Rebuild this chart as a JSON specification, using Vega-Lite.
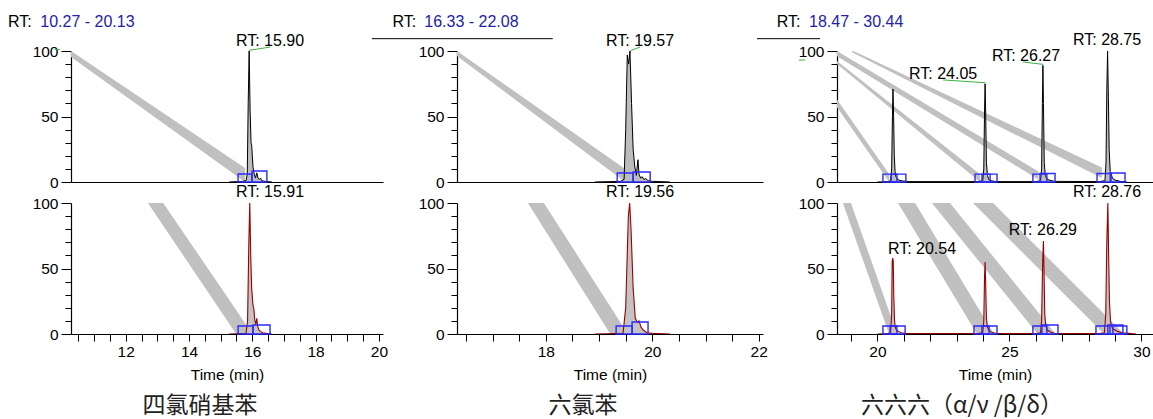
{
"$schema": "https://vega.github.io/schema/vega-lite/v6.json",
"padding": {"left": 8, "top": 13, "right": 0, "bottom": 4},
"config": {"font": "Liberation Sans", "view": {"stroke": null},
  "axis": {"grid": false, "domainColor": "#000", "domainWidth": 1.2, "tickColor": "#000", "tickWidth": 1, "labelColor": "#000", "labelFont": "Liberation Sans", "labelFontSize": 15.5, "labelFlush": false, "labelOverlap": false, "titleFont": "Liberation Sans", "titleFontSize": 15.5, "titleFontWeight": "normal", "titleColor": "#000"}},
"datasets": {
"trace": [
{"p":"1t","t":15.27,"v":0},{"p":"1t","t":15.5,"v":0.3},{"p":"1t","t":15.7,"v":0.5},{"p":"1t","t":15.8,"v":1},{"p":"1t","t":15.84,"v":6},{"p":"1t","t":15.87,"v":60},{"p":"1t","t":15.9,"v":100},{"p":"1t","t":15.93,"v":55},{"p":"1t","t":15.96,"v":30},{"p":"1t","t":15.98,"v":28},{"p":"1t","t":16.02,"v":12},{"p":"1t","t":16.06,"v":6},{"p":"1t","t":16.1,"v":3},{"p":"1t","t":16.14,"v":7},{"p":"1t","t":16.18,"v":3},{"p":"1t","t":16.22,"v":2},{"p":"1t","t":16.26,"v":3},{"p":"1t","t":16.3,"v":1},{"p":"1t","t":16.4,"v":0.5},{"p":"1t","t":16.62,"v":0},
{"p":"1b","t":15.27,"v":0},{"p":"1b","t":15.5,"v":0.2},{"p":"1b","t":15.8,"v":0.5},{"p":"1b","t":15.85,"v":10},{"p":"1b","t":15.89,"v":70},{"p":"1b","t":15.92,"v":100},{"p":"1b","t":15.95,"v":60},{"p":"1b","t":15.98,"v":35},{"p":"1b","t":16.02,"v":22},{"p":"1b","t":16.05,"v":19},{"p":"1b","t":16.08,"v":10},{"p":"1b","t":16.11,"v":8},{"p":"1b","t":16.14,"v":12},{"p":"1b","t":16.17,"v":6},{"p":"1b","t":16.21,"v":3},{"p":"1b","t":16.26,"v":2},{"p":"1b","t":16.32,"v":1},{"p":"1b","t":16.45,"v":0.5},{"p":"1b","t":16.62,"v":0},
{"p":"2t","t":18.92,"v":0},{"p":"2t","t":19.2,"v":0.3},{"p":"2t","t":19.4,"v":0.5},{"p":"2t","t":19.47,"v":2},{"p":"2t","t":19.5,"v":40},{"p":"2t","t":19.53,"v":97},{"p":"2t","t":19.555,"v":90},{"p":"2t","t":19.58,"v":100},{"p":"2t","t":19.61,"v":60},{"p":"2t","t":19.64,"v":25},{"p":"2t","t":19.67,"v":12},{"p":"2t","t":19.7,"v":5},{"p":"2t","t":19.73,"v":17},{"p":"2t","t":19.75,"v":6},{"p":"2t","t":19.78,"v":3},{"p":"2t","t":19.81,"v":4},{"p":"2t","t":19.84,"v":2},{"p":"2t","t":19.88,"v":2.5},{"p":"2t","t":19.92,"v":1},{"p":"2t","t":20.0,"v":0.5},{"p":"2t","t":20.15,"v":0.3},{"p":"2t","t":20.33,"v":0},
{"p":"2b","t":18.92,"v":0},{"p":"2b","t":19.3,"v":0.3},{"p":"2b","t":19.45,"v":0.5},{"p":"2b","t":19.5,"v":20},{"p":"2b","t":19.55,"v":90},{"p":"2b","t":19.575,"v":100},{"p":"2b","t":19.6,"v":80},{"p":"2b","t":19.64,"v":35},{"p":"2b","t":19.68,"v":12},{"p":"2b","t":19.72,"v":9},{"p":"2b","t":19.75,"v":10},{"p":"2b","t":19.79,"v":5},{"p":"2b","t":19.83,"v":3},{"p":"2b","t":19.9,"v":1},{"p":"2b","t":20.0,"v":0.5},{"p":"2b","t":20.33,"v":0},
{"p":"3t","t":20.0,"v":0},{"p":"3t","t":20.4,"v":0.3},{"p":"3t","t":20.5,"v":1},{"p":"3t","t":20.54,"v":10},{"p":"3t","t":20.57,"v":50},{"p":"3t","t":20.59,"v":71},{"p":"3t","t":20.61,"v":55},{"p":"3t","t":20.64,"v":20},{"p":"3t","t":20.67,"v":8},{"p":"3t","t":20.7,"v":4},{"p":"3t","t":20.75,"v":3},{"p":"3t","t":20.8,"v":1.5},{"p":"3t","t":20.95,"v":0.8},{"p":"3t","t":21.2,"v":0.3},
{"p":"3t","t":23.8,"v":0.3},{"p":"3t","t":23.99,"v":1},{"p":"3t","t":24.03,"v":10},{"p":"3t","t":24.06,"v":55},{"p":"3t","t":24.08,"v":75},{"p":"3t","t":24.1,"v":55},{"p":"3t","t":24.13,"v":15},{"p":"3t","t":24.17,"v":5},{"p":"3t","t":24.22,"v":2},{"p":"3t","t":24.3,"v":1},{"p":"3t","t":24.5,"v":0.3},
{"p":"3t","t":26.0,"v":0.3},{"p":"3t","t":26.18,"v":1},{"p":"3t","t":26.22,"v":10},{"p":"3t","t":26.25,"v":60},{"p":"3t","t":26.27,"v":89},{"p":"3t","t":26.29,"v":60},{"p":"3t","t":26.32,"v":15},{"p":"3t","t":26.36,"v":5},{"p":"3t","t":26.42,"v":2.5},{"p":"3t","t":26.5,"v":1.5},{"p":"3t","t":26.7,"v":0.5},
{"p":"3t","t":28.4,"v":0.3},{"p":"3t","t":28.62,"v":1},{"p":"3t","t":28.66,"v":15},{"p":"3t","t":28.69,"v":70},{"p":"3t","t":28.72,"v":100},{"p":"3t","t":28.75,"v":65},{"p":"3t","t":28.78,"v":25},{"p":"3t","t":28.82,"v":8},{"p":"3t","t":28.86,"v":6},{"p":"3t","t":28.9,"v":3},{"p":"3t","t":29.0,"v":1.5},{"p":"3t","t":29.2,"v":0.5},{"p":"3t","t":29.45,"v":0},
{"p":"3b","t":20.0,"v":0},{"p":"3b","t":20.4,"v":0.3},{"p":"3b","t":20.5,"v":1},{"p":"3b","t":20.54,"v":15},{"p":"3b","t":20.56,"v":55},{"p":"3b","t":20.58,"v":58},{"p":"3b","t":20.6,"v":56},{"p":"3b","t":20.62,"v":30},{"p":"3b","t":20.65,"v":10},{"p":"3b","t":20.68,"v":5},{"p":"3b","t":20.72,"v":3},{"p":"3b","t":20.8,"v":2},{"p":"3b","t":20.9,"v":1},{"p":"3b","t":21.1,"v":0.4},
{"p":"3b","t":23.8,"v":0.3},{"p":"3b","t":23.99,"v":1},{"p":"3b","t":24.03,"v":10},{"p":"3b","t":24.06,"v":45},{"p":"3b","t":24.08,"v":55},{"p":"3b","t":24.1,"v":40},{"p":"3b","t":24.13,"v":12},{"p":"3b","t":24.17,"v":5},{"p":"3b","t":24.22,"v":3},{"p":"3b","t":24.3,"v":1.5},{"p":"3b","t":24.5,"v":0.4},
{"p":"3b","t":26.0,"v":0.4},{"p":"3b","t":26.18,"v":1},{"p":"3b","t":26.22,"v":10},{"p":"3b","t":26.26,"v":55},{"p":"3b","t":26.29,"v":71},{"p":"3b","t":26.31,"v":50},{"p":"3b","t":26.34,"v":15},{"p":"3b","t":26.38,"v":6},{"p":"3b","t":26.44,"v":3},{"p":"3b","t":26.55,"v":1.5},{"p":"3b","t":26.7,"v":0.5},
{"p":"3b","t":28.4,"v":0.4},{"p":"3b","t":28.6,"v":1},{"p":"3b","t":28.65,"v":15},{"p":"3b","t":28.69,"v":70},{"p":"3b","t":28.73,"v":100},{"p":"3b","t":28.76,"v":60},{"p":"3b","t":28.79,"v":25},{"p":"3b","t":28.83,"v":10},{"p":"3b","t":28.87,"v":6},{"p":"3b","t":28.92,"v":4},{"p":"3b","t":29.0,"v":3},{"p":"3b","t":29.1,"v":2},{"p":"3b","t":29.25,"v":1},{"p":"3b","t":29.5,"v":0.5},{"p":"3b","t":29.8,"v":0}
],
"band": [
{"p":"1t","b":"A","t":10.27,"v":95.5,"v2":100},{"p":"1t","b":"A","t":15.77,"v":0,"v2":10.7},
{"p":"1b","b":"A","t":12.45,"v":109,"v2":126},{"p":"1b","b":"A","t":15.49,"v":0,"v2":18.3},{"p":"1b","b":"A","t":15.99,"v":0,"v2":0},
{"p":"2t","b":"A","t":16.33,"v":96.2,"v2":100},{"p":"2t","b":"A","t":19.49,"v":0,"v2":10},
{"p":"2b","b":"A","t":17.51,"v":109.8,"v2":128.8},{"p":"2b","b":"A","t":19.21,"v":0,"v2":20.9},{"p":"2b","b":"A","t":19.54,"v":0,"v2":0},
{"p":"3t","b":"A","t":18.47,"v":57,"v2":63},{"p":"3t","b":"A","t":20.45,"v":0,"v2":6},
{"p":"3t","b":"B","t":18.47,"v":90,"v2":92.4},{"p":"3t","b":"B","t":23.89,"v":0,"v2":6},
{"p":"3t","b":"C","t":18.47,"v":96,"v2":100},{"p":"3t","b":"C","t":26.1,"v":2,"v2":8},
{"p":"3t","b":"D","t":19.04,"v":99,"v2":100.5},{"p":"3t","b":"D","t":28.5,"v":3,"v2":11},
{"p":"3b","b":"A","t":18.58,"v":106.5,"v2":123.8},{"p":"3b","b":"A","t":20.44,"v":0,"v2":17.6},{"p":"3b","b":"A","t":20.74,"v":0,"v2":0},
{"p":"3b","b":"B","t":20.48,"v":110,"v2":131.8},{"p":"3b","b":"B","t":23.77,"v":0,"v2":21.4},{"p":"3b","b":"B","t":24.42,"v":0,"v2":0},
{"p":"3b","b":"C","t":21.8,"v":106.6,"v2":123.7},{"p":"3b","b":"C","t":26.07,"v":0,"v2":17.1},{"p":"3b","b":"C","t":26.75,"v":0,"v2":0},
{"p":"3b","b":"D","t":23.32,"v":106,"v2":121.4},{"p":"3b","b":"D","t":28.59,"v":0,"v2":15.3},{"p":"3b","b":"D","t":29.34,"v":0,"v2":0}
],
"box": [
{"p":"1t","t":15.55,"t2":15.99,"v":0,"v2":6.1},{"p":"1t","t":15.99,"t2":16.46,"v":0,"v2":8.4},
{"p":"1b","t":15.55,"t2":16.02,"v":0,"v2":6.1},{"p":"1b","t":16.02,"t2":16.56,"v":0,"v2":6.9},
{"p":"2t","t":19.34,"t2":19.64,"v":0,"v2":6.9},{"p":"2t","t":19.64,"t2":19.96,"v":0,"v2":7.6},
{"p":"2b","t":19.32,"t2":19.62,"v":0,"v2":6.1},{"p":"2b","t":19.62,"t2":19.92,"v":0,"v2":9.2},
{"p":"3t","t":20.21,"t2":20.74,"v":0,"v2":6},{"p":"3t","t":20.52,"t2":21.08,"v":0,"v2":6},
{"p":"3t","t":23.7,"t2":24.27,"v":0,"v2":6},{"p":"3t","t":23.96,"t2":24.53,"v":0,"v2":6},
{"p":"3t","t":25.89,"t2":26.42,"v":0,"v2":6},{"p":"3t","t":26.16,"t2":26.73,"v":0,"v2":6.5},
{"p":"3t","t":28.32,"t2":28.85,"v":0,"v2":6.5},{"p":"3t","t":28.82,"t2":29.38,"v":0,"v2":6.9},
{"p":"3b","t":20.21,"t2":20.74,"v":0,"v2":6.1},{"p":"3b","t":20.48,"t2":21.05,"v":0,"v2":6.1},
{"p":"3b","t":23.66,"t2":24.23,"v":0,"v2":6.1},{"p":"3b","t":23.96,"t2":24.53,"v":0,"v2":6.1},
{"p":"3b","t":25.89,"t2":26.42,"v":0,"v2":6.1},{"p":"3b","t":26.23,"t2":26.84,"v":0,"v2":6.9},
{"p":"3b","t":28.28,"t2":28.81,"v":0,"v2":6.1},{"p":"3b","t":28.73,"t2":29.3,"v":0,"v2":6.9},{"p":"3b","t":28.92,"t2":29.45,"v":0,"v2":6.1}
],
"label": [
{"p":"1t","t":16.56,"v":103.8,"text":"RT: 15.90"},
{"p":"1b","t":16.56,"v":104.6,"text":"RT: 15.91"},
{"p":"2t","t":19.77,"v":103.8,"text":"RT: 19.57"},
{"p":"2b","t":19.77,"v":104.6,"text":"RT: 19.56"},
{"p":"3t","t":22.49,"v":78.9,"text":"RT: 24.05"},
{"p":"3t","t":25.63,"v":92.4,"text":"RT: 26.27"},
{"p":"3t","t":28.7,"v":104.3,"text":"RT: 28.75"},
{"p":"3b","t":28.7,"v":104.3,"text":"RT: 28.76"},
{"p":"3b","t":21.69,"v":61.3,"text":"RT: 20.54"},
{"p":"3b","t":26.27,"v":75.3,"text":"RT: 26.29"}
],
"leader": [
{"p":"1t","t":15.9,"v":100.5,"t2":16.56,"v2":103},
{"p":"1t","t":9.76,"v":101.2,"t2":9.92,"v2":101.2},
{"p":"2t","t":19.59,"v":100.3,"t2":19.77,"v2":103},
{"p":"3t","t":22.49,"v":77.9,"t2":24.08,"v2":75.8},
{"p":"3t","t":25.52,"v":91.6,"t2":26.28,"v2":89.8},
{"p":"3t","t":17.03,"v":93,"t2":17.26,"v2":93.2}
],
"head": [
{"p":"1t","part":"rt","t":8.28,"v":122.4,"text":"RT:"},{"p":"1t","part":"range","t":9.3,"v":122.4,"text":"10.27 - 20.13"},
{"p":"2t","part":"rt","t":15.12,"v":122.4,"text":"RT:"},{"p":"2t","part":"range","t":15.715,"v":122.4,"text":"16.33 - 22.08"},
{"p":"3t","part":"rt","t":16.186,"v":122.4,"text":"RT:"},{"p":"3t","part":"range","t":17.41,"v":122.4,"text":"18.47 - 30.44"}
],
"hrule": [
{"p":"2t","t":14.73,"t2":18.13,"v":109.4},
{"p":"3t","t":15.44,"t2":17.83,"v":109.4}
]
},
"concat": [
{
 "width": 312, "height": 131,
 "encoding": {
  "x": {"field":"t","type":"quantitative","scale":{"domain":[10.27,20.13],"nice":false,"zero":false},"axis":{"title":null,"labels":false,"ticks":false}},
  "y": {"field":"v","type":"quantitative","scale":{"domain":[0,100],"nice":false,"zero":false},"axis":{"title":null,"values":[0,10,20,30,40,50,60,70,80,90,100],"labelExpr":"datum.value % 50 === 0 ? datum.label : ''","tickSize":{"condition":{"test":"datum.value % 50 === 0","value":10},"value":6},"labelPadding":3,"labelFont":"Liberation Sans","labelFontSize":15.5,"labelColor":"#000"}}
 },
 "layer": [
  {"data":{"name":"band"},"transform":[{"filter":"datum.p === '1t'"}],"mark":{"type":"area","clip":true,"color":"#c0c0c0"},"encoding":{"y":{"field":"v","type":"quantitative","stack":null},"y2":{"field":"v2"},"detail":{"field":"b","type":"nominal"}}},
  {"data":{"name":"trace"},"transform":[{"filter":"datum.p === '1t'"}],"mark":{"type":"area","clip":true,"color":"#bdbdbd"},"encoding":{"y":{"field":"v","type":"quantitative","stack":null}}},
  {"data":{"name":"trace"},"transform":[{"filter":"datum.p === '1t'"}],"mark":{"type":"line","clip":true,"color":"#000","strokeWidth":1}},
  {"data":{"name":"box"},"transform":[{"filter":"datum.p === '1t'"}],"mark":{"type":"rect","fillOpacity":0,"stroke":"#2a2aff","strokeWidth":1.4},"encoding":{"x2":{"field":"t2"},"y2":{"field":"v2"}}},
  {"data":{"name":"leader"},"transform":[{"filter":"datum.p === '1t'"}],"mark":{"type":"rule","color":"#3cb043","strokeWidth":1},"encoding":{"x2":{"field":"t2"},"y2":{"field":"v2"}}},
  {"data":{"name":"label"},"transform":[{"filter":"datum.p === '1t'"}],"mark":{"type":"text","font":"Liberation Sans","fontSize":16,"align":"center","baseline":"alphabetic","color":"#000"},"encoding":{"text":{"field":"text"}}},
  {"data":{"name":"head"},"transform":[{"filter":"datum.p === '1t' && datum.part === 'rt'"}],"mark":{"type":"text","font":"Liberation Sans","fontSize":16,"align":"left","baseline":"middle","color":"#000"},"encoding":{"text":{"field":"text"}}},
  {"data":{"name":"head"},"transform":[{"filter":"datum.p === '1t' && datum.part === 'range'"}],"mark":{"type":"text","font":"Liberation Sans","fontSize":16,"align":"left","baseline":"middle","color":"#2222a8"},"encoding":{"text":{"field":"text"}}}
 ]
},
{
 "width": 306, "height": 131,
 "encoding": {
  "x": {"field":"t","type":"quantitative","scale":{"domain":[16.33,22.08],"nice":false,"zero":false},"axis":{"title":null,"labels":false,"ticks":false}},
  "y": {"field":"v","type":"quantitative","scale":{"domain":[0,100],"nice":false,"zero":false},"axis":{"title":null,"values":[0,10,20,30,40,50,60,70,80,90,100],"labelExpr":"datum.value % 50 === 0 ? datum.label : ''","tickSize":{"condition":{"test":"datum.value % 50 === 0","value":10},"value":6},"labelPadding":3,"labelFont":"Liberation Sans","labelFontSize":15.5,"labelColor":"#000"}}
 },
 "layer": [
  {"data":{"name":"band"},"transform":[{"filter":"datum.p === '2t'"}],"mark":{"type":"area","clip":true,"color":"#c0c0c0"},"encoding":{"y":{"field":"v","type":"quantitative","stack":null},"y2":{"field":"v2"},"detail":{"field":"b","type":"nominal"}}},
  {"data":{"name":"trace"},"transform":[{"filter":"datum.p === '2t'"}],"mark":{"type":"area","clip":true,"color":"#bdbdbd"},"encoding":{"y":{"field":"v","type":"quantitative","stack":null}}},
  {"data":{"name":"trace"},"transform":[{"filter":"datum.p === '2t'"}],"mark":{"type":"line","clip":true,"color":"#000","strokeWidth":1}},
  {"data":{"name":"box"},"transform":[{"filter":"datum.p === '2t'"}],"mark":{"type":"rect","fillOpacity":0,"stroke":"#2a2aff","strokeWidth":1.4},"encoding":{"x2":{"field":"t2"},"y2":{"field":"v2"}}},
  {"data":{"name":"leader"},"transform":[{"filter":"datum.p === '2t'"}],"mark":{"type":"rule","color":"#3cb043","strokeWidth":1},"encoding":{"x2":{"field":"t2"},"y2":{"field":"v2"}}},
  {"data":{"name":"hrule"},"transform":[{"filter":"datum.p === '2t'"}],"mark":{"type":"rule","color":"#000","strokeWidth":1},"encoding":{"x2":{"field":"t2"}}},
  {"data":{"name":"label"},"transform":[{"filter":"datum.p === '2t'"}],"mark":{"type":"text","font":"Liberation Sans","fontSize":16,"align":"center","baseline":"alphabetic","color":"#000"},"encoding":{"text":{"field":"text"}}},
  {"data":{"name":"head"},"transform":[{"filter":"datum.p === '2t' && datum.part === 'rt'"}],"mark":{"type":"text","font":"Liberation Sans","fontSize":16,"align":"left","baseline":"middle","color":"#000"},"encoding":{"text":{"field":"text"}}},
  {"data":{"name":"head"},"transform":[{"filter":"datum.p === '2t' && datum.part === 'range'"}],"mark":{"type":"text","font":"Liberation Sans","fontSize":16,"align":"left","baseline":"middle","color":"#2222a8"},"encoding":{"text":{"field":"text"}}}
 ]
},
{
 "width": 316, "height": 131,
 "encoding": {
  "x": {"field":"t","type":"quantitative","scale":{"domain":[18.47,30.44],"nice":false,"zero":false},"axis":{"title":null,"labels":false,"ticks":false}},
  "y": {"field":"v","type":"quantitative","scale":{"domain":[0,100],"nice":false,"zero":false},"axis":{"title":null,"values":[0,10,20,30,40,50,60,70,80,90,100],"labelExpr":"datum.value % 50 === 0 ? datum.label : ''","tickSize":{"condition":{"test":"datum.value % 50 === 0","value":10},"value":6},"labelPadding":3,"labelFont":"Liberation Sans","labelFontSize":15.5,"labelColor":"#000"}}
 },
 "layer": [
  {"data":{"name":"band"},"transform":[{"filter":"datum.p === '3t'"}],"mark":{"type":"area","clip":true,"color":"#c0c0c0"},"encoding":{"y":{"field":"v","type":"quantitative","stack":null},"y2":{"field":"v2"},"detail":{"field":"b","type":"nominal"}}},
  {"data":{"name":"trace"},"transform":[{"filter":"datum.p === '3t'"}],"mark":{"type":"area","clip":true,"color":"#bdbdbd"},"encoding":{"y":{"field":"v","type":"quantitative","stack":null}}},
  {"data":{"name":"trace"},"transform":[{"filter":"datum.p === '3t'"}],"mark":{"type":"line","clip":true,"color":"#000","strokeWidth":1}},
  {"data":{"name":"box"},"transform":[{"filter":"datum.p === '3t'"}],"mark":{"type":"rect","fillOpacity":0,"stroke":"#2a2aff","strokeWidth":1.4},"encoding":{"x2":{"field":"t2"},"y2":{"field":"v2"}}},
  {"data":{"name":"leader"},"transform":[{"filter":"datum.p === '3t'"}],"mark":{"type":"rule","color":"#3cb043","strokeWidth":1},"encoding":{"x2":{"field":"t2"},"y2":{"field":"v2"}}},
  {"data":{"name":"hrule"},"transform":[{"filter":"datum.p === '3t'"}],"mark":{"type":"rule","color":"#000","strokeWidth":1},"encoding":{"x2":{"field":"t2"}}},
  {"data":{"name":"label"},"transform":[{"filter":"datum.p === '3t'"}],"mark":{"type":"text","font":"Liberation Sans","fontSize":16,"align":"center","baseline":"alphabetic","color":"#000"},"encoding":{"text":{"field":"text"}}},
  {"data":{"name":"head"},"transform":[{"filter":"datum.p === '3t' && datum.part === 'rt'"}],"mark":{"type":"text","font":"Liberation Sans","fontSize":16,"align":"left","baseline":"middle","color":"#000"},"encoding":{"text":{"field":"text"}}},
  {"data":{"name":"head"},"transform":[{"filter":"datum.p === '3t' && datum.part === 'range'"}],"mark":{"type":"text","font":"Liberation Sans","fontSize":16,"align":"left","baseline":"middle","color":"#2222a8"},"encoding":{"text":{"field":"text"}}}
 ]
},
{
 "width": 312, "height": 131,
 "title": {"text":"四氯硝基苯","orient":"bottom","anchor":"middle","font":"Noto Sans CJK SC","fontSize":23,"fontWeight":"normal","color":"#222","dx":-27,"offset":12},
 "encoding": {
  "x": {"field":"t","type":"quantitative","scale":{"domain":[10.27,20.13],"nice":false,"zero":false},"axis":{"title":"Time (min)","values":[10.5,11,11.5,12,12.5,13,13.5,14,14.5,15,15.5,16,16.5,17,17.5,18,18.5,19,19.5,20],"labelExpr":"datum.value % 2 === 0 ? '' + datum.value : ''","tickSize":7,"labelPadding":3,"titlePadding":8,"labelFont":"Liberation Sans","labelFontSize":15.5,"labelColor":"#000","titleFont":"Liberation Sans","titleFontSize":15.5,"titleFontWeight":"normal","titleColor":"#000"}},
  "y": {"field":"v","type":"quantitative","scale":{"domain":[0,100],"nice":false,"zero":false},"axis":{"title":null,"values":[0,10,20,30,40,50,60,70,80,90,100],"labelExpr":"datum.value % 50 === 0 ? datum.label : ''","tickSize":{"condition":{"test":"datum.value % 50 === 0","value":10},"value":6},"labelPadding":3,"labelFont":"Liberation Sans","labelFontSize":15.5,"labelColor":"#000"}}
 },
 "layer": [
  {"data":{"name":"band"},"transform":[{"filter":"datum.p === '1b'"}],"mark":{"type":"area","clip":true,"color":"#c0c0c0"},"encoding":{"y":{"field":"v","type":"quantitative","stack":null},"y2":{"field":"v2"},"detail":{"field":"b","type":"nominal"}}},
  {"data":{"name":"trace"},"transform":[{"filter":"datum.p === '1b'"}],"mark":{"type":"area","clip":true,"color":"#c4c4c4"},"encoding":{"y":{"field":"v","type":"quantitative","stack":null}}},
  {"data":{"name":"trace"},"transform":[{"filter":"datum.p === '1b'"}],"mark":{"type":"line","clip":true,"color":"#990000","strokeWidth":1.1}},
  {"data":{"name":"box"},"transform":[{"filter":"datum.p === '1b'"}],"mark":{"type":"rect","fillOpacity":0,"stroke":"#2a2aff","strokeWidth":1.4},"encoding":{"x2":{"field":"t2"},"y2":{"field":"v2"}}},
  {"data":{"name":"label"},"transform":[{"filter":"datum.p === '1b'"}],"mark":{"type":"text","font":"Liberation Sans","fontSize":16,"align":"center","baseline":"alphabetic","color":"#000"},"encoding":{"text":{"field":"text"}}}
 ]
},
{
 "width": 306, "height": 131,
 "title": {"text":"六氯苯","orient":"bottom","anchor":"middle","font":"Noto Sans CJK SC","fontSize":23,"fontWeight":"normal","color":"#222","dx":-27,"offset":12},
 "encoding": {
  "x": {"field":"t","type":"quantitative","scale":{"domain":[16.33,22.08],"nice":false,"zero":false},"axis":{"title":"Time (min)","values":[16.5,17,17.5,18,18.5,19,19.5,20,20.5,21,21.5,22],"labelExpr":"datum.value % 2 === 0 ? '' + datum.value : ''","tickSize":7,"labelPadding":3,"titlePadding":8,"labelFont":"Liberation Sans","labelFontSize":15.5,"labelColor":"#000","titleFont":"Liberation Sans","titleFontSize":15.5,"titleFontWeight":"normal","titleColor":"#000"}},
  "y": {"field":"v","type":"quantitative","scale":{"domain":[0,100],"nice":false,"zero":false},"axis":{"title":null,"values":[0,10,20,30,40,50,60,70,80,90,100],"labelExpr":"datum.value % 50 === 0 ? datum.label : ''","tickSize":{"condition":{"test":"datum.value % 50 === 0","value":10},"value":6},"labelPadding":3,"labelFont":"Liberation Sans","labelFontSize":15.5,"labelColor":"#000"}}
 },
 "layer": [
  {"data":{"name":"band"},"transform":[{"filter":"datum.p === '2b'"}],"mark":{"type":"area","clip":true,"color":"#c0c0c0"},"encoding":{"y":{"field":"v","type":"quantitative","stack":null},"y2":{"field":"v2"},"detail":{"field":"b","type":"nominal"}}},
  {"data":{"name":"trace"},"transform":[{"filter":"datum.p === '2b'"}],"mark":{"type":"area","clip":true,"color":"#c4c4c4"},"encoding":{"y":{"field":"v","type":"quantitative","stack":null}}},
  {"data":{"name":"trace"},"transform":[{"filter":"datum.p === '2b'"}],"mark":{"type":"line","clip":true,"color":"#990000","strokeWidth":1.1}},
  {"data":{"name":"box"},"transform":[{"filter":"datum.p === '2b'"}],"mark":{"type":"rect","fillOpacity":0,"stroke":"#2a2aff","strokeWidth":1.4},"encoding":{"x2":{"field":"t2"},"y2":{"field":"v2"}}},
  {"data":{"name":"label"},"transform":[{"filter":"datum.p === '2b'"}],"mark":{"type":"text","font":"Liberation Sans","fontSize":16,"align":"center","baseline":"alphabetic","color":"#000"},"encoding":{"text":{"field":"text"}}}
 ]
},
{
 "width": 316, "height": 131,
 "title": {"text":"六六六（α/ν /β/δ）","orient":"bottom","anchor":"middle","font":"Noto Sans CJK SC","fontSize":23,"fontWeight":"normal","color":"#222","dx":-33,"offset":12},
 "encoding": {
  "x": {"field":"t","type":"quantitative","scale":{"domain":[18.47,30.44],"nice":false,"zero":false},"axis":{"title":"Time (min)","values":[19,20,21,22,23,24,25,26,27,28,29,30],"labelExpr":"datum.value % 5 === 0 ? '' + datum.value : ''","tickSize":7,"labelPadding":3,"titlePadding":8,"labelFont":"Liberation Sans","labelFontSize":15.5,"labelColor":"#000","titleFont":"Liberation Sans","titleFontSize":15.5,"titleFontWeight":"normal","titleColor":"#000"}},
  "y": {"field":"v","type":"quantitative","scale":{"domain":[0,100],"nice":false,"zero":false},"axis":{"title":null,"values":[0,10,20,30,40,50,60,70,80,90,100],"labelExpr":"datum.value % 50 === 0 ? datum.label : ''","tickSize":{"condition":{"test":"datum.value % 50 === 0","value":10},"value":6},"labelPadding":3,"labelFont":"Liberation Sans","labelFontSize":15.5,"labelColor":"#000"}}
 },
 "layer": [
  {"data":{"name":"band"},"transform":[{"filter":"datum.p === '3b'"}],"mark":{"type":"area","clip":true,"color":"#c0c0c0"},"encoding":{"y":{"field":"v","type":"quantitative","stack":null},"y2":{"field":"v2"},"detail":{"field":"b","type":"nominal"}}},
  {"data":{"name":"trace"},"transform":[{"filter":"datum.p === '3b'"}],"mark":{"type":"area","clip":true,"color":"#c4c4c4"},"encoding":{"y":{"field":"v","type":"quantitative","stack":null}}},
  {"data":{"name":"trace"},"transform":[{"filter":"datum.p === '3b'"}],"mark":{"type":"line","clip":true,"color":"#990000","strokeWidth":1.1}},
  {"data":{"name":"box"},"transform":[{"filter":"datum.p === '3b'"}],"mark":{"type":"rect","fillOpacity":0,"stroke":"#2a2aff","strokeWidth":1.4},"encoding":{"x2":{"field":"t2"},"y2":{"field":"v2"}}},
  {"data":{"name":"label"},"transform":[{"filter":"datum.p === '3b'"}],"mark":{"type":"text","font":"Liberation Sans","fontSize":16,"align":"center","baseline":"alphabetic","color":"#000"},"encoding":{"text":{"field":"text"}}}
 ]
}
],
"columns": 3,
"spacing": {"row": 21, "column": 74},
"bounds": "flush",
"align": "each"
}
